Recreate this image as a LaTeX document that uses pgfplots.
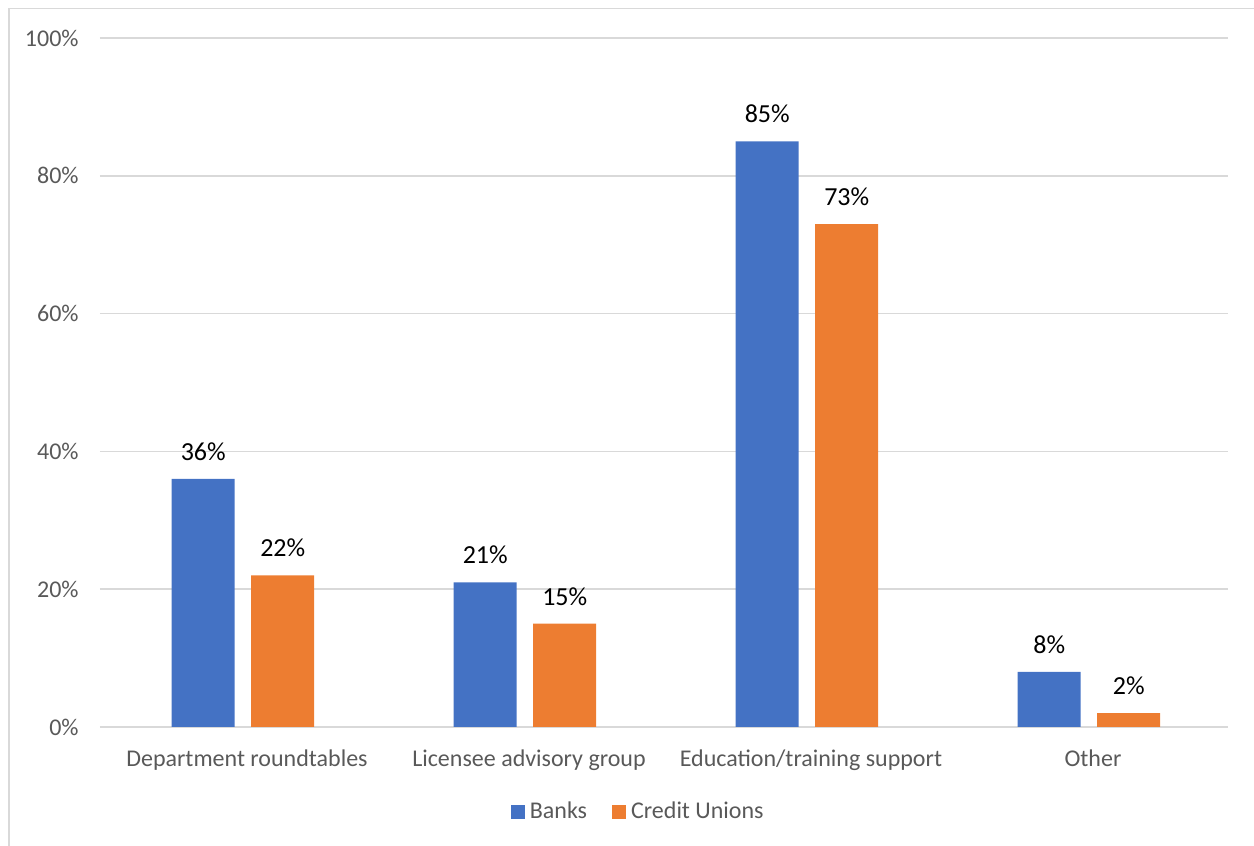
\documentclass[border=0pt]{standalone}
\usepackage{pgfplots}
\pgfplotsset{compat=1.18}
\usepackage{fontspec}
\setmainfont{Carlito}
\definecolor{banks}{HTML}{4472C4}
\definecolor{cu}{HTML}{ED7D31}
\definecolor{txt}{HTML}{595959}
\definecolor{gridc}{HTML}{D9D9D9}

\begin{document}
\begin{tikzpicture}[x=1pt,y=1pt]
\useasboundingbox (0,0) rectangle (627,423);
% chart area frame (left and top edges)
\draw[gridc, line width=0.9pt] (4.5,-5) -- (4.5,418.75) -- (640,418.75);
\begin{axis}[
  at={(50pt,59.5pt)}, anchor=south west,
  scale only axis, width=564pt, height=344.5pt,
  ymin=0, ymax=100, xmin=-0.507, xmax=3.493,
  ybar=8.25pt, bar width=31.5pt,
  axis line style={draw=none},
  major tick length=0pt,
  ymajorgrids, grid style={gridc, line width=0.8pt},
  ytick={0,20,40,60,80,100},
  /pgf/number format/assume math mode=true,
  yticklabel={\pgfmathprintnumber{\tick}\%},
  yticklabel style={font=\fontsize{12}{14}\selectfont, text=txt, anchor=east, inner sep=0pt, xshift=-10.5pt},
  xtick={0,1,2,3},
  xticklabels={Department roundtables, Licensee advisory group, Education/training support, Other},
  xticklabel style={font=\fontsize{12}{14}\selectfont, text=txt, anchor=base, inner sep=0pt, yshift=-20pt, xshift=2pt},
  nodes near coords={\pgfmathprintnumber{\pgfplotspointmeta}\%},
  every node near coord/.append style={font=\fontsize{13}{15}\selectfont, text=black, anchor=south, inner sep=0pt, yshift=9pt},
  legend columns=2,
  legend cell align=left,
  legend image code/.code={\path[#1, draw=none] (0pt,-3.5pt) rectangle (7pt,3.5pt);},
  legend style={at={(0.4785,-0.1235)}, anchor=center, draw=none, fill=none,
    font=\fontsize{12}{14}\selectfont, text=txt,
    nodes={inner xsep=2.5pt},
    /tikz/every even column/.append style={column sep=10pt}},
]
\addplot[fill=banks, draw=none] coordinates {(0,36) (1,21) (2,85) (3,8)};
\addplot[fill=cu, draw=none] coordinates {(0,22) (1,15) (2,73) (3,2)};
\legend{Banks, Credit Unions}
\end{axis}
\end{tikzpicture}
\end{document}
